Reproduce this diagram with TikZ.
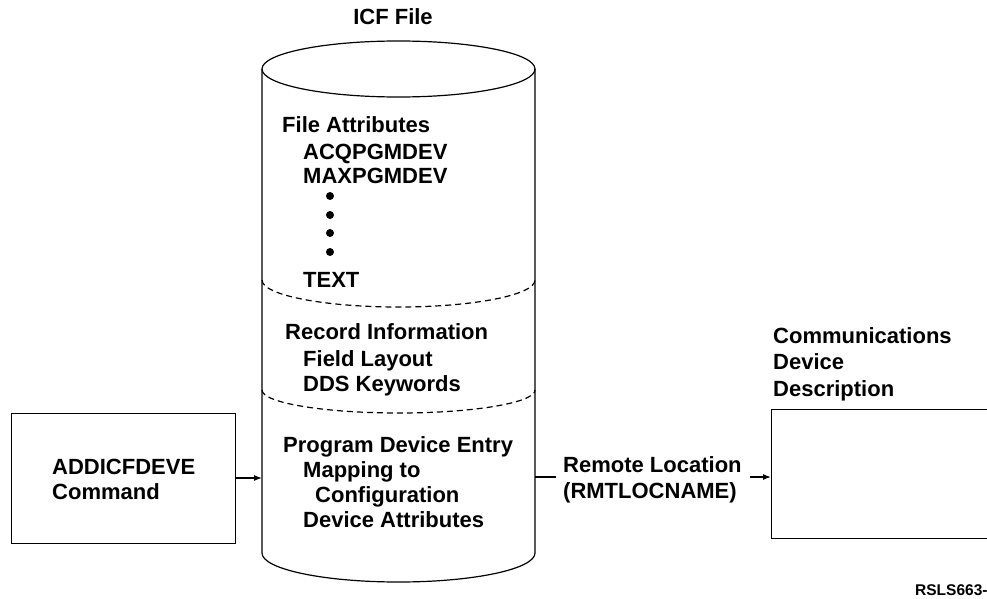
\documentclass[tikz,border=0pt]{standalone}
\usepackage{fontspec}
\setmainfont{Liberation Sans}
\usetikzlibrary{arrows.meta}
\newcommand\mytxtfont{\fontsize{22}{25}\selectfont\bfseries}
\tikzset{
  txt/.style={anchor=base west, inner sep=0pt, font=\mytxtfont},
  line/.style={line width=1.2pt},
  arr/.style={line width=1.2pt, -{Latex[length=8pt,width=6pt]}},
  dotm/.style={circle, fill=black, inner sep=0pt, minimum size=8pt},
  boxst/.style={draw, line width=1.2pt, inner sep=0pt, anchor=north west}
}
\begin{document}
\begin{tikzpicture}[x=1pt,y=-1pt]
\useasboundingbox (0,0) rectangle (987,599);
\clip (0,0) rectangle (987,599);
% cylinder
\node[inner sep=0pt, minimum width=273pt, minimum height=484pt, anchor=north west] (icf) at (262,69) {};
\draw[line] (398.5,69) ellipse [x radius=136.5pt, y radius=28pt];
\draw[line] (262,69) -- (262,553) arc[start angle=180, end angle=360, x radius=136.5pt, y radius=29pt] -- (535,69);
\draw[line, dashed, dash pattern=on 6pt off 4pt] (262,280) arc[start angle=180, end angle=360, x radius=136.5pt, y radius=27pt];
\draw[line, dashed, dash pattern=on 6pt off 4pt] (262,390) arc[start angle=180, end angle=360, x radius=136.5pt, y radius=23pt];
\node[anchor=base, inner sep=0pt, font=\mytxtfont] (title) at (393,25) {ICF File};
% section 1
\node[txt] (fa) at (282,132) {File Attributes};
\node[txt] (acq) at (303,159) {ACQPGMDEV};
\node[txt] (max) at (303,183) {MAXPGMDEV};
\node[dotm] (d1) at (330,196) {};
\node[dotm] (d2) at (330,215) {};
\node[dotm] (d3) at (330,233) {};
\node[dotm] (d4) at (330,252) {};
\node[txt] (text) at (303,287) {TEXT};
% section 2
\node[txt] (ri) at (285,339) {Record Information};
\node[txt] (fl) at (303,366) {Field Layout};
\node[txt] (dds) at (303,391) {DDS Keywords};
% section 3
\node[txt] (pde) at (283,452) {Program Device Entry};
\node[txt] (map) at (303,477) {Mapping to};
\node[txt] (conf) at (315,502) {Configuration};
\node[txt] (dat) at (303,527) {Device Attributes};
% left box
\node[boxst, minimum width=224pt, minimum height=130pt] (cmd) at (11,413) {};
\node[txt] (cmdt1) at (52,474) {ADDICFDEVE};
\node[txt] (cmdt2) at (52,499) {Command};
\draw[arr] (cmd.east |- 0,478) -- (icf.west |- 0,478);
% right side
\node[txt] (rl1) at (563,472) {Remote Location};
\node[txt] (rl2) at (563,498) {(RMTLOCNAME)};
\coordinate (rlin) at (556,477);
\coordinate (rlout) at (750,477);
\node[boxst, minimum width=240pt, minimum height=129pt] (cdd) at (771,409) {};
\draw[line] (icf.east |- rlin) -- (rlin);
\draw[arr] (rlout) -- (cdd.west |- rlout);
\node[txt] (cd1) at (773,343) {Communications};
\node[txt] (cd2) at (773,369) {Device};
\node[txt] (cd3) at (773,396) {Description};
\node[anchor=base west, inner sep=0pt, font=\fontsize{15.5}{17}\selectfont\bfseries] (rsl) at (915,595) {RSLS663-};
\end{tikzpicture}
\end{document}
